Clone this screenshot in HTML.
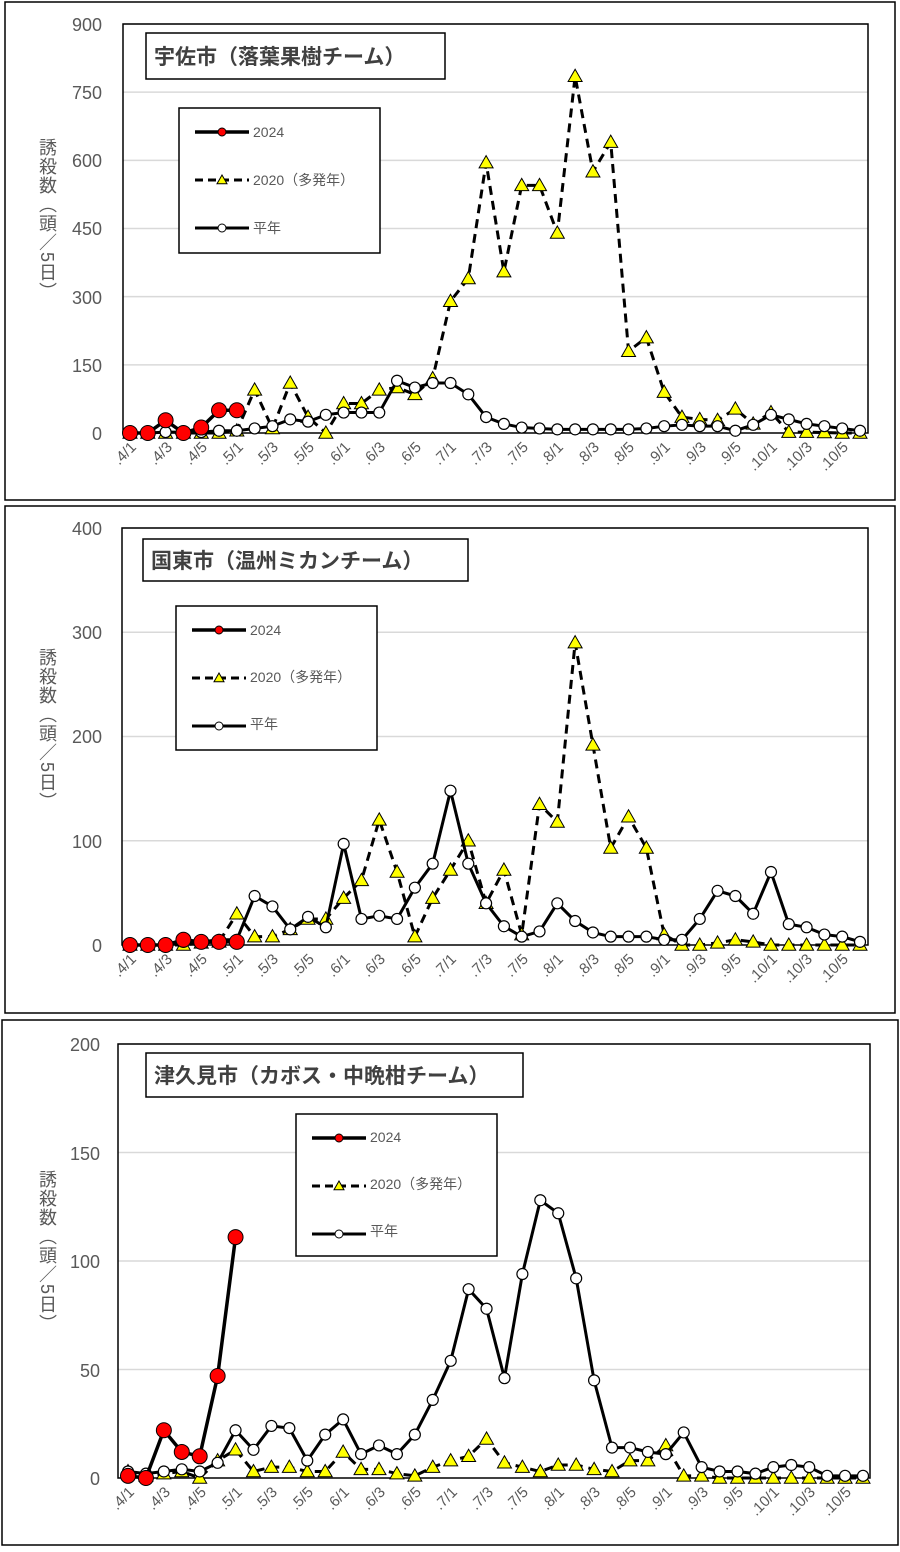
<!DOCTYPE html>
<html><head><meta charset="utf-8"><style>
body{margin:0;background:#fff}
svg text{font-family:"Liberation Sans","Noto Sans CJK JP",sans-serif;fill:#595959}
.yl{font-size:18px;text-anchor:end}
.xl{font-size:15px;text-anchor:end}
.tt{font-size:21px;font-weight:bold;fill:#404040}
.lg{font-size:14px}
.yt{font-size:18px;writing-mode:vertical-rl;letter-spacing:1px}
</style></head><body>
<svg id="s" width="900" height="1547" viewBox="0 0 900 1547" xmlns="http://www.w3.org/2000/svg">
<rect x="0" y="0" width="900" height="1547" fill="#fff"/>
<rect x="5" y="2" width="890" height="498" fill="none" stroke="#000" stroke-width="1.5"/>
<rect x="5" y="506" width="890" height="507" fill="none" stroke="#000" stroke-width="1.5"/>
<rect x="2" y="1020" width="896" height="525" fill="none" stroke="#000" stroke-width="1.5"/>
<g id="grid"></g>
<rect x="123" y="24" width="745" height="409" fill="none" stroke="#000" stroke-width="1.5"/>
<rect x="122" y="528" width="746" height="417" fill="none" stroke="#000" stroke-width="1.5"/>
<rect x="118" y="1044" width="752" height="434" fill="none" stroke="#000" stroke-width="1.5"/>
<text class="yl" x="102" y="31">900</text><text class="yl" x="102" y="99">750</text><text class="yl" x="102" y="167">600</text><text class="yl" x="102" y="235">450</text><text class="yl" x="102" y="304">300</text><text class="yl" x="102" y="372">150</text><text class="yl" x="102" y="440">0</text>
<text class="yl" x="102" y="535">400</text><text class="yl" x="102" y="639">300</text><text class="yl" x="102" y="743">200</text><text class="yl" x="102" y="848">100</text><text class="yl" x="102" y="952">0</text>
<text class="yl" x="100" y="1051">200</text><text class="yl" x="100" y="1160">150</text><text class="yl" x="100" y="1268">100</text><text class="yl" x="100" y="1377">50</text><text class="yl" x="100" y="1485">0</text>
<text class="yt" x="47" y="138">誘殺数（頭／5日）</text>
<text class="yt" x="47" y="648">誘殺数（頭／5日）</text>
<text class="yt" x="47" y="1170">誘殺数（頭／5日）</text>
<g id="data"></g>
<g>
<text class="xl" transform="translate(137,448) rotate(-45)">.4/1</text><text class="xl" transform="translate(173,448) rotate(-45)">.4/3</text><text class="xl" transform="translate(208,448) rotate(-45)">.4/5</text><text class="xl" transform="translate(244,448) rotate(-45)">.5/1</text><text class="xl" transform="translate(279,448) rotate(-45)">.5/3</text><text class="xl" transform="translate(315,448) rotate(-45)">.5/5</text><text class="xl" transform="translate(351,448) rotate(-45)">.6/1</text><text class="xl" transform="translate(386,448) rotate(-45)">.6/3</text><text class="xl" transform="translate(422,448) rotate(-45)">.6/5</text><text class="xl" transform="translate(457,448) rotate(-45)">.7/1</text><text class="xl" transform="translate(493,448) rotate(-45)">.7/3</text><text class="xl" transform="translate(529,448) rotate(-45)">.7/5</text><text class="xl" transform="translate(564,448) rotate(-45)">.8/1</text><text class="xl" transform="translate(600,448) rotate(-45)">.8/3</text><text class="xl" transform="translate(635,448) rotate(-45)">.8/5</text><text class="xl" transform="translate(671,448) rotate(-45)">.9/1</text><text class="xl" transform="translate(707,448) rotate(-45)">.9/3</text><text class="xl" transform="translate(742,448) rotate(-45)">.9/5</text><text class="xl" transform="translate(778,448) rotate(-45)">.10/1</text><text class="xl" transform="translate(813,448) rotate(-45)">.10/3</text><text class="xl" transform="translate(849,448) rotate(-45)">.10/5</text>
</g>
<g>
<text class="xl" transform="translate(137,960) rotate(-45)">.4/1</text><text class="xl" transform="translate(173,960) rotate(-45)">.4/3</text><text class="xl" transform="translate(208,960) rotate(-45)">.4/5</text><text class="xl" transform="translate(244,960) rotate(-45)">.5/1</text><text class="xl" transform="translate(279,960) rotate(-45)">.5/3</text><text class="xl" transform="translate(315,960) rotate(-45)">.5/5</text><text class="xl" transform="translate(351,960) rotate(-45)">.6/1</text><text class="xl" transform="translate(386,960) rotate(-45)">.6/3</text><text class="xl" transform="translate(422,960) rotate(-45)">.6/5</text><text class="xl" transform="translate(457,960) rotate(-45)">.7/1</text><text class="xl" transform="translate(493,960) rotate(-45)">.7/3</text><text class="xl" transform="translate(529,960) rotate(-45)">.7/5</text><text class="xl" transform="translate(564,960) rotate(-45)">.8/1</text><text class="xl" transform="translate(600,960) rotate(-45)">.8/3</text><text class="xl" transform="translate(635,960) rotate(-45)">.8/5</text><text class="xl" transform="translate(671,960) rotate(-45)">.9/1</text><text class="xl" transform="translate(707,960) rotate(-45)">.9/3</text><text class="xl" transform="translate(742,960) rotate(-45)">.9/5</text><text class="xl" transform="translate(778,960) rotate(-45)">.10/1</text><text class="xl" transform="translate(813,960) rotate(-45)">.10/3</text><text class="xl" transform="translate(849,960) rotate(-45)">.10/5</text>
</g>
<g>
<text class="xl" transform="translate(135,1493) rotate(-45)">.4/1</text><text class="xl" transform="translate(171,1493) rotate(-45)">.4/3</text><text class="xl" transform="translate(207,1493) rotate(-45)">.4/5</text><text class="xl" transform="translate(243,1493) rotate(-45)">.5/1</text><text class="xl" transform="translate(278,1493) rotate(-45)">.5/3</text><text class="xl" transform="translate(314,1493) rotate(-45)">.5/5</text><text class="xl" transform="translate(350,1493) rotate(-45)">.6/1</text><text class="xl" transform="translate(386,1493) rotate(-45)">.6/3</text><text class="xl" transform="translate(422,1493) rotate(-45)">.6/5</text><text class="xl" transform="translate(458,1493) rotate(-45)">.7/1</text><text class="xl" transform="translate(494,1493) rotate(-45)">.7/3</text><text class="xl" transform="translate(529,1493) rotate(-45)">.7/5</text><text class="xl" transform="translate(565,1493) rotate(-45)">.8/1</text><text class="xl" transform="translate(601,1493) rotate(-45)">.8/3</text><text class="xl" transform="translate(637,1493) rotate(-45)">.8/5</text><text class="xl" transform="translate(673,1493) rotate(-45)">.9/1</text><text class="xl" transform="translate(709,1493) rotate(-45)">.9/3</text><text class="xl" transform="translate(744,1493) rotate(-45)">.9/5</text><text class="xl" transform="translate(780,1493) rotate(-45)">.10/1</text><text class="xl" transform="translate(816,1493) rotate(-45)">.10/3</text><text class="xl" transform="translate(852,1493) rotate(-45)">.10/5</text>
</g>
<rect x="146" y="33" width="299" height="46" fill="#fff" stroke="#000" stroke-width="1.5"/>
<text class="tt" x="154" y="64">宇佐市（落葉果樹チーム）</text>
<rect x="143" y="539" width="325" height="42" fill="#fff" stroke="#000" stroke-width="1.5"/>
<text class="tt" x="151" y="568">国東市（温州ミカンチーム）</text>
<rect x="146" y="1053" width="377" height="44" fill="#fff" stroke="#000" stroke-width="1.5"/>
<text class="tt" x="154" y="1083">津久見市（カボス・中晩柑チーム）</text>
<g id="leg"></g>
<text class="lg" x="253" y="137">2024</text><text class="lg" x="253" y="185">2020（多発年）</text><text class="lg" x="253" y="233">平年</text>
<text class="lg" x="250" y="635">2024</text><text class="lg" x="250" y="682">2020（多発年）</text><text class="lg" x="250" y="729">平年</text>
<text class="lg" x="370" y="1142">2024</text><text class="lg" x="370" y="1189">2020（多発年）</text><text class="lg" x="370" y="1236">平年</text>
</svg>
<script>
var NS="http://www.w3.org/2000/svg";
function el(p,t,a){var e=document.createElementNS(NS,t);for(var k in a)e.setAttribute(k,a[k]);p.appendChild(e);return e;}
var G=document.getElementById('grid'),D=document.getElementById('data'),L=document.getElementById('leg');
var charts=[
{x0:130,x1:860,y0:433,ytop:24,max:900,step:150,gx0:123,gx1:868,
 r:[0,0,28,0,12,50,50],
 t:[0,0,0,0,0,0,5,95,10,110,35,0,65,65,95,100,85,120,290,340,595,355,545,545,440,785,575,640,180,210,90,35,30,28,53,20,45,2,2,1,0,0],
 n:[0,0,2,2,2,5,5,10,15,30,25,40,45,45,45,115,100,110,110,85,35,20,12,10,8,8,8,8,8,10,15,18,15,15,5,18,40,30,20,15,10,5],
 leg:[179,108,201,145]},
{x0:130,x1:860,y0:945,ytop:528,max:400,step:100,gx0:122,gx1:868,
 r:[0,0,0,5,3,3,3],
 t:[0,0,0,0,2,3,30,8,8,15,25,25,45,62,120,70,8,45,72,100,40,72,10,135,118,290,192,93,123,93,10,0,0,2,5,3,0,0,0,0,0,0],
 n:[0,0,0,3,3,5,5,47,37,15,27,17,97,25,28,25,55,78,148,78,40,18,8,13,40,23,12,8,8,8,5,5,25,52,47,30,70,20,17,10,8,3],
 leg:[176,606,201,144]},
{x0:128,x1:863,y0:1478,ytop:1044,max:200,step:50,gx0:118,gx1:870,
 r:[1,0,22,12,10,47,111],
 t:[3,1,2,3,0,8,13,3,5,5,3,3,12,4,4,2,1,5,8,10,18,7,5,3,6,6,4,3,8,8,15,1,1,0,0,0,0,0,0,0,0,0],
 n:[3,2,3,4,3,7,22,13,24,23,8,20,27,11,15,11,20,36,54,87,78,46,94,128,122,92,45,14,14,12,11,21,5,3,3,2,5,6,5,1,1,1],
 leg:[296,1114,201,142]}
];
function tri(p,x,y,s){el(p,'polygon',{points:(x)+','+(y-s)+' '+(x-s)+','+(y+s*0.75)+' '+(x+s)+','+(y+s*0.75),fill:'#ffff00',stroke:'#000','stroke-width':1});}
charts.forEach(function(c){
 var sc=(c.y0-c.ytop)/c.max,dx=(c.x1-c.x0)/41;
 for(var v=c.step;v<=c.max;v+=c.step){var y=c.y0-v*sc;el(G,'line',{x1:c.gx0,x2:c.gx1,y1:y,y2:y,stroke:'#d9d9d9','stroke-width':1.5});}
 function pts(a){return a.map(function(v,i){return [c.x0+i*dx,c.y0-v*sc];});}
 var T=pts(c.t),N=pts(c.n),R=pts(c.r);
 el(D,'polyline',{points:T.join(' '),fill:'none',stroke:'#000','stroke-width':3,'stroke-dasharray':'9,6'});
 T.forEach(function(p){tri(D,p[0],p[1],7);});
 el(D,'polyline',{points:N.join(' '),fill:'none',stroke:'#000','stroke-width':3});
 N.forEach(function(p){el(D,'circle',{cx:p[0],cy:p[1],r:5.5,fill:'#fff',stroke:'#000','stroke-width':1.2});});
 el(D,'polyline',{points:R.join(' '),fill:'none',stroke:'#000','stroke-width':3.5});
 R.forEach(function(p){el(D,'circle',{cx:p[0],cy:p[1],r:7.5,fill:'#ff0000',stroke:'#000','stroke-width':1});});
 var l=c.leg;el(L,'rect',{x:l[0],y:l[1],width:l[2],height:l[3],fill:'#fff',stroke:'#000','stroke-width':1.5});
 var lx=l[0]+16,ys=[l[1]+24,l[1]+72,l[1]+120];
 el(L,'line',{x1:lx,x2:lx+54,y1:ys[0],y2:ys[0],stroke:'#000','stroke-width':3.5});
 el(L,'circle',{cx:lx+27,cy:ys[0],r:4,fill:'#f00',stroke:'#000','stroke-width':1});
 el(L,'line',{x1:lx,x2:lx+54,y1:ys[1],y2:ys[1],stroke:'#000','stroke-width':3,'stroke-dasharray':'8,5'});
 tri(L,lx+27,ys[1],5);
 el(L,'line',{x1:lx,x2:lx+54,y1:ys[2],y2:ys[2],stroke:'#000','stroke-width':3});
 el(L,'circle',{cx:lx+27,cy:ys[2],r:4,fill:'#fff',stroke:'#000','stroke-width':1});
});
</script>
</body></html>
